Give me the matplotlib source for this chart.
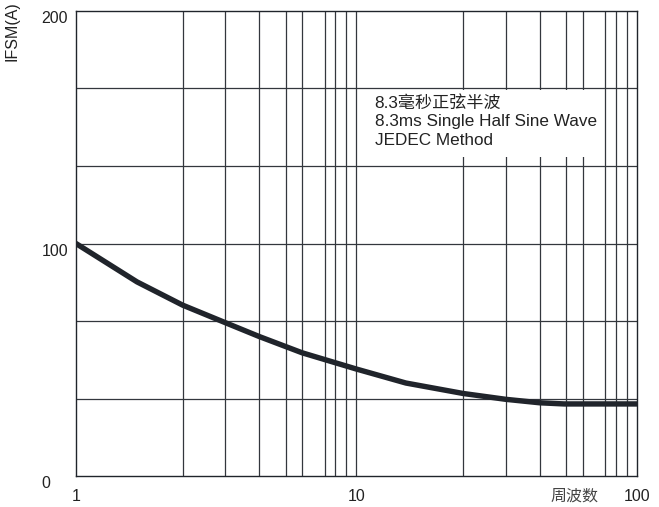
import matplotlib
matplotlib.use("Agg")
import matplotlib.pyplot as plt
from matplotlib.patches import Rectangle
from matplotlib.ticker import FixedLocator, NullFormatter

plt.rcParams["font.family"] = ["Liberation Sans", "Noto Sans CJK SC", "DejaVu Sans"]

# surge current vs. number of cycles
cycles = [1, 1.65, 2.4, 3.4, 4.5, 6.4, 10, 15, 24, 34, 45, 55, 70, 100]
ifsm   = [100, 83.5, 73.5, 66, 60, 53, 46, 40, 35.5, 33, 31.5, 31, 31, 31]

x_ticks = [1, 10, 100]
x_tick_labels = ["1", "10", "100"]
y_ticks = [0, 100, 200]
y_tick_labels = ["0", "100", "200"]
# grid lines as drawn on the original sheet (not exact log positions)
grid_x = [2.4, 3.4, 4.5, 5.6, 6.4, 7.7, 8.4, 9.2,
          10, 24, 34, 45, 56, 64, 77, 84, 92]
grid_y = [33.3, 66.7, 100, 133.3, 166.7]

note_lines = ["8.3毫秒正弦半波", "8.3ms Single Half Sine Wave", "JEDEC Method"]
x_unit = "周波数"
y_label = "IFSM(A)"

INK = "#20242b"
GRID = "#33373d"

fig = plt.figure(figsize=(6.59, 5.07), dpi=100)
ax = fig.add_axes([0.1153, 0.0611, 0.8513, 0.9172])

ax.set_xscale("log")
ax.set_xlim(1, 100)
ax.set_ylim(0, 200)

for gx in grid_x:
    ax.axvline(gx, color=GRID, lw=0.9, zorder=1)
for gy in grid_y:
    ax.axhline(gy, color=GRID, lw=0.9, zorder=1)

# white patch behind the note, hiding the grid
ax.add_patch(Rectangle((10.2, 137), 73.5 - 10.2, 29, facecolor="white",
                       edgecolor="none", zorder=1.5))
ax.text(11.6, 164, "\n".join(note_lines), fontsize=12.3, color="#222222",
        va="top", ha="left", linespacing=1.32, zorder=2)

ax.plot(cycles, ifsm, color=INK, lw=3.9, solid_capstyle="round",
        solid_joinstyle="round", zorder=3)

ax.xaxis.set_major_locator(FixedLocator(x_ticks))
ax.set_xticklabels(x_tick_labels)
ax.xaxis.set_minor_locator(FixedLocator([]))
ax.xaxis.set_minor_formatter(NullFormatter())
ax.set_yticks(y_ticks)
ax.set_yticklabels(y_tick_labels)
ax.tick_params(length=0, labelsize=11.5, colors="#222222")
ax.tick_params(axis="x", pad=9)
ax.tick_params(axis="y", pad=25)
for lab in ax.get_yticklabels():
    lab.set_ha("left")
    lab.set_va("top")

for sp in ax.spines.values():
    sp.set_color(INK)
    sp.set_linewidth(1.0)

ax.annotate(x_unit, xy=(60, 0), xycoords=("data", "axes fraction"),
            xytext=(0, -9), textcoords="offset points",
            ha="center", va="top", fontsize=11.5, color="#444444")

fig.text(0.018, 0.997, y_label, rotation=90, ha="center", va="top",
         fontsize=11.5, color="#222222")

fig.savefig("out.png", dpi=100)
